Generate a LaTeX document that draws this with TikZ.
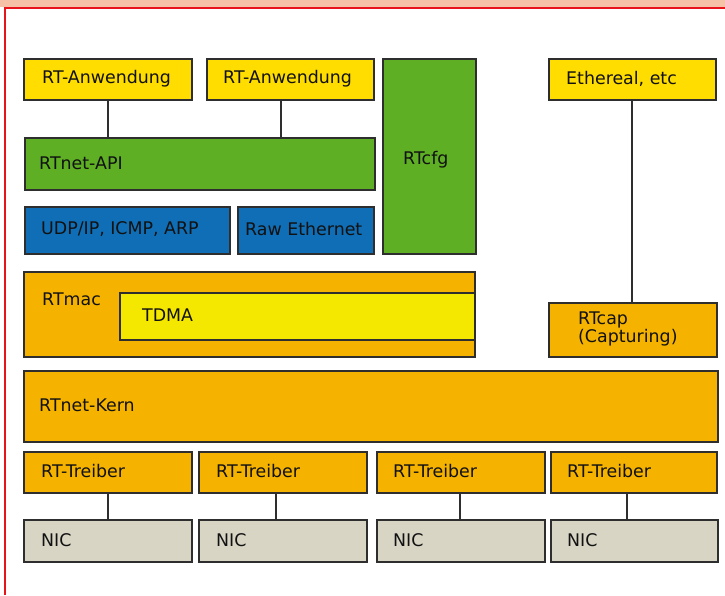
\documentclass[tikz,border=0pt]{standalone}
\usepackage{fontspec}
\setmainfont{DejaVu Sans}
\usetikzlibrary{calc}
\definecolor{salmon}{HTML}{F5C2A8}
\definecolor{frame}{HTML}{E8141C}
\definecolor{edge}{HTML}{2E2E2E}
\definecolor{txt}{HTML}{111111}
\definecolor{appyel}{HTML}{FFDD00}
\definecolor{apigreen}{HTML}{5FAF24}
\definecolor{protblue}{HTML}{0F6EB5}
\definecolor{coreorange}{HTML}{F5B300}
\definecolor{tdmayel}{HTML}{F5E800}
\definecolor{nicgray}{HTML}{D8D5C5}
\newcommand\blk[6]{\node[box, fill=#6, minimum width={(#3-#1)*1pt}, minimum height={(#4-#2)*1pt}, anchor=north west] (#5) at (#1,#2) {};}
\begin{document}
\begin{tikzpicture}[x=1pt,y=-1pt,
  box/.style={draw=edge, line width=1.5pt, inner sep=0pt},
  conn/.style={draw=edge, line width=1.5pt},
  lbl/.style={anchor=west, inner sep=0pt, font=\fontsize{17.4}{18}\selectfont, text=txt, align=left}]
\useasboundingbox (0,0) rectangle (725,595);
\fill[white] (0,0) rectangle (725,595);
\fill[salmon] (0,0) rectangle (725,7);
\draw[frame, line width=2pt] (4.5,595) -- (4.5,7.5) -- (725,7.5);
% boxes
\blk{23}{58}{191}{99}{anw1}{appyel}
\blk{206}{58}{373}{99}{anw2}{appyel}
\blk{382}{58}{475}{253}{cfg}{apigreen}
\blk{548}{58}{715}{99}{eth}{appyel}
\blk{24}{137}{374}{189}{api}{apigreen}
\blk{24}{206}{229}{253}{udp}{protblue}
\blk{237}{206}{373}{253}{raw}{protblue}
\blk{23}{271}{474}{356}{mac}{coreorange}
\blk{119}{292}{474}{339}{tdma}{tdmayel}
\blk{548}{302}{716}{356}{cap}{coreorange}
\blk{23}{370}{717}{441}{kern}{coreorange}
\blk{23}{451}{191}{492}{t1}{coreorange}
\blk{198}{451}{366}{492}{t2}{coreorange}
\blk{376}{451}{544}{492}{t3}{coreorange}
\blk{550}{451}{716}{492}{t4}{coreorange}
\blk{23}{519}{191}{561}{n1}{nicgray}
\blk{198}{519}{366}{561}{n2}{nicgray}
\blk{376}{519}{544}{561}{n3}{nicgray}
\blk{550}{519}{717}{561}{n4}{nicgray}
% labels
\node[lbl] (lanw1) at (42,78.5) {RT-Anwendung};
\node[lbl] (lanw2) at (223,78.5) {RT-Anwendung};
\node[lbl] (lcfg) at (403,160) {RTcfg};
\node[lbl] (leth) at (566,78.5) {Ethereal, etc};
\node[lbl] (lapi) at (39,163) {RTnet-API};
\node[lbl] (ludp) at (41,229.5) {UDP/IP, ICMP, ARP};
\node[lbl] (lraw) at (245,229.5) {Raw Ethernet};
\node[lbl] (lmac) at (42,299) {RTmac};
\node[lbl] (ltdma) at (142,315) {TDMA};
\node[lbl] (lcap) at (578,329) {RTcap\\(Capturing)};
\node[lbl] (lkern) at (39,405) {RTnet-Kern};
\node[lbl] (lt1) at (41,471.5) {RT-Treiber};
\node[lbl] (lt2) at (216,471.5) {RT-Treiber};
\node[lbl] (lt3) at (393,471.5) {RT-Treiber};
\node[lbl] (lt4) at (567,471.5) {RT-Treiber};
\node[lbl] (ln1) at (41,540) {NIC};
\node[lbl] (ln2) at (216,540) {NIC};
\node[lbl] (ln3) at (393,540) {NIC};
\node[lbl] (ln4) at (567,540) {NIC};
% connector x positions
\coordinate (xa1) at (108,0);
\coordinate (xa2) at (281,0);
\coordinate (xe) at (632,0);
\coordinate (x1) at (108,0);
\coordinate (x2) at (276,0);
\coordinate (x3) at (460,0);
\coordinate (x4) at (627,0);
% connectors
\draw[conn] (anw1.south -| xa1) -- (api.north -| xa1);
\draw[conn] (anw2.south -| xa2) -- (api.north -| xa2);
\draw[conn] (eth.south -| xe) -- (cap.north -| xe);
\draw[conn] (t1.south -| x1) -- (n1.north -| x1);
\draw[conn] (t2.south -| x2) -- (n2.north -| x2);
\draw[conn] (t3.south -| x3) -- (n3.north -| x3);
\draw[conn] (t4.south -| x4) -- (n4.north -| x4);
\end{tikzpicture}
\end{document}
